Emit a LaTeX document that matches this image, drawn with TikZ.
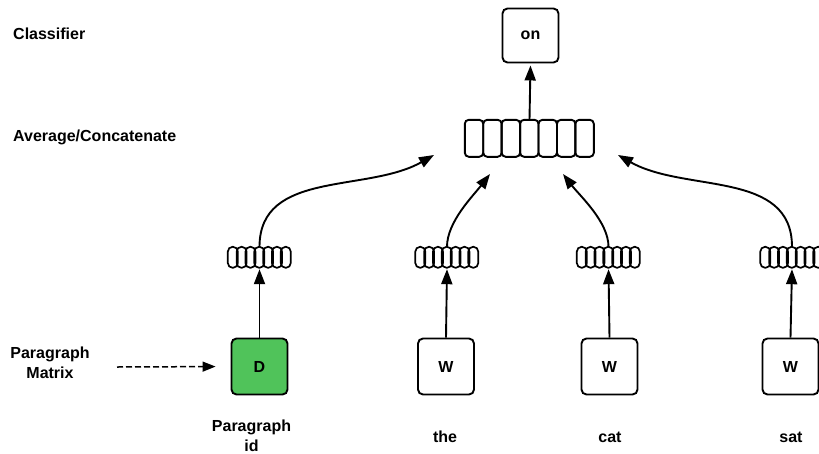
\documentclass[tikz,border=0pt]{standalone}
\usepackage{fontspec}
\setmainfont{Liberation Sans}
\usetikzlibrary{arrows.meta,calc}
\definecolor{dgreen}{RGB}{80,195,90}
\begin{document}
\begin{tikzpicture}[x=1pt,y=-1pt,
  lbl/.style={font=\bfseries\fontsize{16}{20}\selectfont, inner sep=0pt},
  box/.style={draw, line width=1.9pt, rounded corners=5pt, minimum width=56pt,
    minimum height=56pt, inner sep=0pt, font=\bfseries\fontsize{16}{20}\selectfont},
  vecnode/.style={minimum width=63pt, minimum height=21pt, inner sep=0pt},
  cell/.style={line width=1.7pt, rounded corners=4.8pt},
  bigcell/.style={line width=1.9pt, rounded corners=4pt},
  arr/.style={line width=1.9pt, -{Triangle[length=15pt,width=11pt]}},
]
\useasboundingbox (0,0) rectangle (819,453);

% row labels
\node[lbl, anchor=base west] (cls) at (13,39.5) {Classifier};
\node[lbl, anchor=base west] (avg) at (13,141) {Average/Concatenate};
\node[lbl, anchor=north, align=center] (pm) at (50,346.3) {Paragraph\\Matrix};

% classifier output
\node[box, minimum height=54pt] (on) at (530.5,35.5) {on};

% averaged / concatenated vector
\node[minimum width=129pt, minimum height=37pt, inner sep=0pt] (bv) at (529.5,138.5) {};
\foreach \i in {0,...,6}
  \draw[bigcell] ($(bv.north west)+(\i*18.43,0)$) rectangle ++(18.43,37);

% input boxes
\node[box, fill=dgreen] (d) at (259.5,366.5) {D};
\node[box] (w1) at (446,366.5) {W};
\node[box] (w2) at (609.5,366.5) {W};
\node[box] (w3) at (790.5,366.5) {W};

% small embedding vectors
\foreach \n/\cx in {v1/259.5, v2/447, v3/608.5, v4/792} {
  \node[vecnode] (\n) at (\cx,257.5) {};
  \foreach \i in {0,...,6}
    \draw[cell] ($(\n.north west)+(\i*8.83,0)$) rectangle ++(10,21);
}

% word labels
\node[lbl, anchor=north, align=center] (pid) at (251.5,419.3) {Paragraph\\id};
\node[lbl, anchor=base] (the) at (445,442) {the};
\node[lbl, anchor=base] (cat) at (610,442) {cat};
\node[lbl, anchor=base] (sat) at (791,442) {sat};

% vertical arrows
\draw[arr, shorten >=2pt] (bv.north) -- (on.south);
\draw[arr, shorten >=1pt] (d.north) -- (v1.south);
\draw[arr, shorten >=1pt] (w1.north) -- (v2.south);
\draw[arr, shorten >=1pt] (w2.north) -- (v3.south);
\draw[arr, shorten >=1pt] (w3.north) -- (v4.south);

% curved arrows into the averaged vector
\coordinate (t1) at (434,155);
\coordinate (t2) at (490,174);
\coordinate (t3) at (563,174);
\coordinate (t4) at (618,155);
\draw[arr] (v1.north) .. controls +(0,-77) and +(-67,38) .. (t1);
\draw[arr] (v2.north) .. controls +(0,-25) and +(-17,22) .. (t2);
\draw[arr] (v3.north) .. controls +(0,-25) and +(17,22) .. (t3);
\draw[arr] (v4.north) .. controls +(0,-77) and +(67,38) .. (t4);

% paragraph matrix feed
\coordinate (dstart) at (117,367);
\draw[line width=1.5pt, dash pattern=on 6pt off 3pt,
  -{Triangle[length=13pt,width=10pt]}, shorten >=15pt] (dstart) -- (d.west);
\end{tikzpicture}
\end{document}
